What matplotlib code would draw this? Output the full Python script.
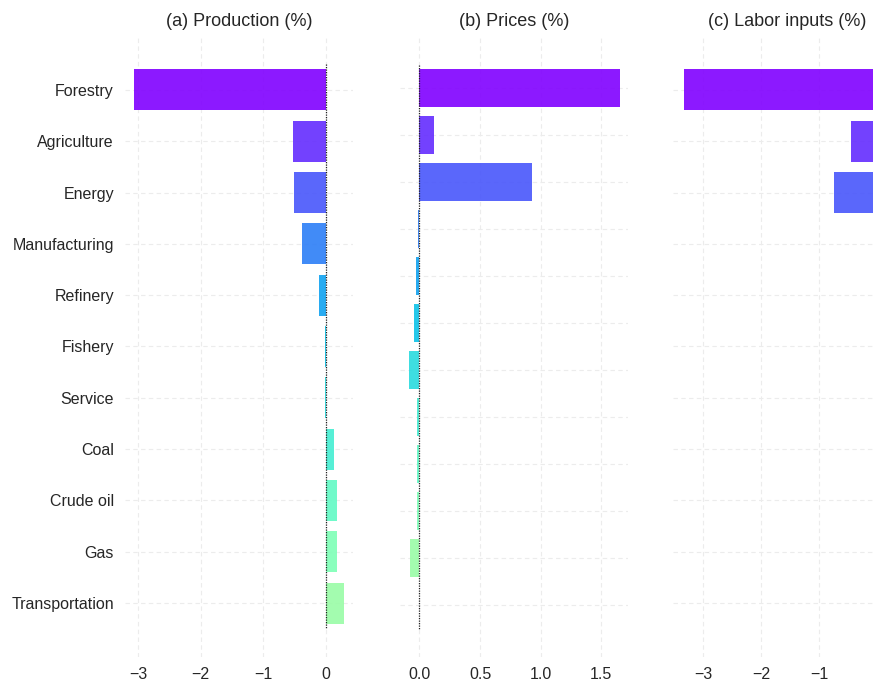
"""
    Sector responses: production, prices and labor inputs.
"""

import matplotlib
matplotlib.use("Agg")
import matplotlib.pyplot as plt
import numpy as np

plt.rcParams['font.family'] = ['Liberation Sans', 'DejaVu Sans']

# sectors, top to bottom
sectors = ['Forestry', 'Agriculture', 'Energy', 'Manufacturing', 'Refinery',
           'Fishery', 'Service', 'Coal', 'Crude oil', 'Gas', 'Transportation']

# (a) production change (%)
production = [-3.07, -0.52, -0.51, -0.38, -0.12, -0.02, -0.01, 0.13, 0.17, 0.17, 0.28]
# (b) price change (%), this panel has one extra (empty) row at the bottom
prices = [1.65, 0.12, 0.93, -0.01, -0.03, -0.045, -0.085, -0.02, -0.02, -0.02, -0.08, 0.0]
# (c) labor input change (%), only the first rows are visible in the crop
labor = [-3.33, -0.45, -0.74, 0.05, 0.08, 0.02, 0.03, 0.12, 0.15, 0.15, 0.25]

titles = ['(a) Production (%)', '(b) Prices (%)', '(c) Labor inputs (%)']
xticks_a = [-3, -2, -1, 0]
xticks_b = [0.0, 0.5, 1.0, 1.5]
xticks_c = [-3, -2, -1, 0]

TEXT = '#262626'

fig = plt.figure(figsize=(8.73, 6.83), dpi=100)
W, H = 873.0, 683.0
bottom = 1 - 657 / H
height = (657 - 37) / H
width = 228 / W

panels = [
    (125, production, xticks_a, ['\u22123', '\u22122', '\u22121', '0'], (-3.21, 0.43), (11.05, -1.03)),
    (400, prices, xticks_b, ['0.0', '0.5', '1.0', '1.5'], (-0.16, 1.72), (12.1, -1.085)),
    (673, labor, xticks_c, ['\u22123', '\u22122', '\u22121', '0'], (-3.52, 0.41), (11.05, -1.03)),
]

for i, (left, vals, xt, xtl, xlim, ylim) in enumerate(panels):
    ax = fig.add_axes([left / W, bottom, width, height])
    n = len(vals)
    y = np.arange(n)
    colors = plt.cm.rainbow(np.linspace(0, 0.055 * (n - 1), n))
    ax.barh(y, vals, height=0.8, color=colors, alpha=0.9, zorder=2)
    # dotted zero line
    ax.vlines(0, -0.5, n - 0.5, colors='#222222', linestyles=(0, (1, 1)),
              linewidth=0.9, zorder=3)

    ax.set_xlim(*xlim)
    ax.set_ylim(*ylim)
    ax.set_xticks(xt)
    ax.set_xticklabels(xtl)
    ax.set_yticks(y)
    if i == 0:
        ax.set_yticklabels(sectors)
    else:
        ax.set_yticklabels([])

    ax.grid(True, color='#ececec', linestyle=(0, (4, 3)), linewidth=0.8, zorder=0)
    ax.set_axisbelow(True)
    for s in ax.spines.values():
        s.set_visible(False)
    ax.tick_params(axis='both', length=0, labelsize=11.5, colors=TEXT)
    ax.tick_params(axis='y', pad=8)
    ax.tick_params(axis='x', pad=7)
    ax.set_title(titles[i], fontsize=13, color=TEXT, pad=8)

plt.savefig('out.png', dpi=100)
